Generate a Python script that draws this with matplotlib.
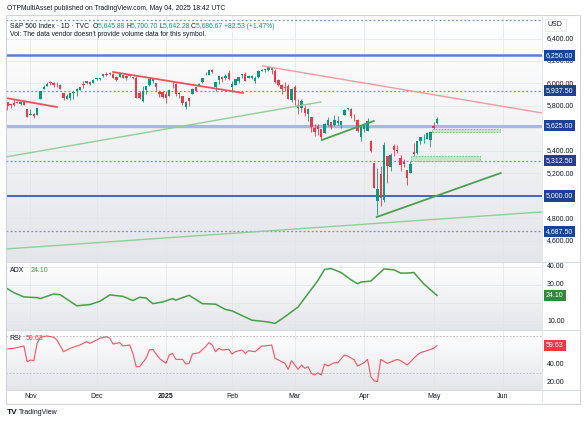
import numpy as np
import matplotlib.pyplot as plt
from matplotlib.colors import LinearSegmentedColormap
from matplotlib.patches import Rectangle
from matplotlib.transforms import blended_transform_factory

plt.rcParams['font.family'] = ['Liberation Sans', 'DejaVu Sans']

# --- Datos: S&P 500 diario, indice de vela 0 = 1 nov 2024 ---
bars = list(range(-7, 124))
opens = [5834, 5817, 5826, 5833, 5819, 5834, 5775,
         5723, 5725, 5722, 5864, 5947, 5976, 6009, 6003, 5986, 5989, 5912, 5863, 5874, 5917, 5930, 5944, 5992, 6001, 6015, 6003,
         6040, 6041, 6066, 6087, 6081, 6084, 6058, 6058, 6074, 6069, 6063, 6053, 6048, 5912, 5843, 5941, 5985, 6024, 6006, 5920, 5920,
         5903, 5891, 5982, 5993, 5910, 5890, 5790, 5868, 5905, 5967, 5976, 6015, 6082, 6076, 6118, 5969, 6027, 6057, 6050, 6096,
         5969, 5990, 6021, 6072, 6083, 6047, 6049, 6026, 6060, 6115, 6121, 6118, 6134, 6115, 6027, 5983, 5971, 5981, 5857,
         5968, 5812, 5781, 5785, 5726, 5705, 5603, 5624, 5594, 5563, 5635, 5655, 5633, 5647, 5630, 5719, 5776, 5772, 5696, 5679, 5527,
         5598, 5581, 5492, 5292, 4953, 5193, 4967, 5353, 5256, 5441, 5411, 5336, 5305, 5233, 5208, 5395, 5381, 5489, 5529, 5508, 5499,
         5626, 5646]
highs = [5834, 5817, 5862, 5842, 5847, 5850, 5776,
         5772, 5741, 5783, 5936, 5983, 6013, 6018, 6010, 6009, 5993, 5915, 5909, 5919, 5921, 5964, 5973, 6020, 6025, 6021, 6044,
         6053, 6052, 6087, 6100, 6099, 6089, 6065, 6092, 6079, 6079, 6085, 6058, 6071, 5935, 5982, 5978, 6040, 6049, 6006, 5941, 5929,
         5935, 5949, 6021, 6000, 5928, 5890, 5847, 5872, 5961, 5968, 6004, 6051, 6100, 6119, 6128, 6017, 6070, 6063, 6086, 6120,
         6022, 6042, 6062, 6084, 6101, 6073, 6076, 6064, 6116, 6127, 6129, 6147, 6134, 6125, 6044, 5992, 6009, 5994, 5959,
         5987, 5865, 5860, 5812, 5783, 5705, 5636, 5642, 5598, 5645, 5704, 5660, 5716, 5711, 5670, 5776, 5786, 5784, 5732, 5685, 5627,
         5651, 5696, 5500, 5292, 5247, 5268, 5481, 5353, 5381, 5459, 5450, 5367, 5328, 5233, 5310, 5470, 5485, 5526, 5554, 5565, 5581,
         5658, 5701]
lows = [5762, 5784, 5799, 5823, 5811, 5811, 5703,
        5723, 5697, 5722, 5864, 5947, 5976, 5991, 5970, 5969, 5947, 5854, 5862, 5855, 5860, 5885, 5944, 5963, 5993, 5990, 6003,
        6035, 6033, 6060, 6071, 6079, 6048, 6026, 6058, 6051, 6029, 6060, 6036, 5867, 5866, 5833, 5903, 5982, 6007, 5932, 5879, 5869,
        5830, 5888, 5961, 5891, 5874, 5809, 5773, 5803, 5905, 5937, 5976, 6007, 6076, 6074, 6089, 5932, 5995, 6013, 6028, 6031,
        5923, 5990, 6007, 6049, 6020, 6047, 6043, 6003, 6050, 6107, 6100, 6111, 6084, 6008, 5978, 5909, 5932, 5858, 5837,
        5810, 5733, 5743, 5712, 5666, 5565, 5529, 5546, 5504, 5563, 5626, 5597, 5622, 5632, 5603, 5719, 5764, 5696, 5671, 5572, 5489,
        5565, 5575, 5390, 5069, 4835, 4910, 4950, 5115, 5220, 5358, 5386, 5220, 5255, 5102, 5208, 5358, 5371, 5463, 5468, 5505, 5433,
        5597, 5642]
closes = [5797, 5809, 5808, 5823, 5832, 5813, 5705,
          5728, 5712, 5783, 5929, 5973, 5996, 6001, 5984, 5985, 5949, 5871, 5893, 5917, 5917, 5949, 5969, 5987, 6021, 5999, 6032,
          6047, 6050, 6086, 6075, 6090, 6053, 6034, 6084, 6051, 6051, 6074, 6050, 5872, 5867, 5931, 5975, 6040, 6037, 5971, 5907, 5882,
          5869, 5942, 5975, 5909, 5918, 5827, 5836, 5843, 5950, 5937, 5997, 6049, 6086, 6119, 6101, 6012, 6067, 6039, 6071, 6040,
          5994, 6037, 6061, 6083, 6026, 6066, 6068, 6052, 6115, 6115, 6129, 6144, 6118, 6013, 5983, 5955, 5956, 5861, 5955,
          5850, 5778, 5842, 5739, 5770, 5615, 5572, 5599, 5522, 5639, 5675, 5615, 5675, 5663, 5668, 5768, 5777, 5712, 5693, 5581, 5612,
          5633, 5671, 5397, 5074, 5062, 4982, 5457, 5268, 5363, 5406, 5397, 5276, 5283, 5158, 5288, 5376, 5485, 5525, 5529, 5561, 5569,
          5604, 5687]

adx_idx = [-7, -5, -2, 2, 3, 7, 9, 14, 18, 21, 24, 28, 31, 33, 35, 37, 40, 43, 44, 46, 48, 52, 56, 59, 61,
           67, 72, 74, 77, 81, 84, 87, 89, 91, 94, 97, 99, 100, 103, 107, 110, 112, 114, 116, 119, 121, 123]
adx_val = [27.8, 25.6, 23.3, 22.9, 22.4, 24.9, 24.5, 18.4, 19.1, 20.9, 24.4, 23.6, 21.3, 23.1, 22.7, 19.6, 20.5, 22.4,
           21.5, 22.9, 24.2, 19.6, 19.3, 16.4, 15.6, 10.5, 9.5, 8.7, 12.4, 17.8, 25.1, 32.4, 38.4, 38.9, 36.7, 32.7,
           30.5, 31.5, 32.0, 38.7, 38.2, 36.4, 36.4, 36.7, 30.5, 27.3, 24.1]

rsi_idx = [-7, -5, -2, -1, 0, 1, 2, 3, 5, 7, 8, 10, 12, 15, 17, 18, 20, 21, 23, 24, 25, 27, 28, 30, 31, 32, 33, 35,
           36, 37, 39, 41, 42, 43, 44, 46, 47, 48, 49, 51, 53, 54, 55, 56, 57, 58, 60, 61, 62, 64, 65, 66, 68, 70, 71,
           73, 74, 76, 77, 78, 79, 81, 82, 83, 84, 85, 86, 87, 88, 89, 90, 92, 93, 95, 96, 98, 99, 101, 102, 103, 104,
           105, 106, 108, 111, 112, 113, 114, 117, 118, 120, 122, 123]
rsi_val = [56.1, 56.8, 59.3, 42.5, 44.3, 43.6, 62.1, 68.6, 70.0, 68.6, 65.7, 53.2, 56.8, 60.4, 63.9, 62.1, 65.7, 67.5,
           69.3, 67.5, 61.4, 62.9, 59.3, 60.4, 51.4, 37.1, 37.1, 46.1, 55.0, 55.7, 46.1, 40.7, 49.6, 51.4, 45.0, 45.0,
           40.0, 40.7, 50.7, 52.1, 58.6, 62.9, 60.4, 53.2, 56.8, 55.0, 55.7, 50.7, 53.2, 55.0, 51.4, 54.3, 53.2, 59.3,
           59.3, 60.4, 46.1, 42.5, 40.7, 34.3, 43.6, 34.3, 38.9, 35.4, 37.1, 30.0, 28.2, 30.7, 28.2, 40.0, 37.9, 41.4,
           41.4, 49.6, 48.6, 44.3, 37.9, 41.4, 45.0, 26.4, 22.1, 21.1, 45.0, 40.7, 45.0, 43.6, 41.4, 38.9, 49.6, 52.1,
           54.3, 56.8, 59.63]

month_idx = [0, 20, 41, 61, 80, 101, 122, 143]
month_lbl = ["Nov", "Dec", "2025", "Feb", "Mar", "Apr", "May", "Jun"]

levels_solid = [6250, 5625, 5000]
levels_dotted = [6562.5, 5937.5, 5312.5, 4687.5]
level_labels = [6250, 5937.5, 5625, 5312.5, 5000, 4687.5]
price_grid = [6400, 6200, 6000, 5800, 5600, 5400, 5200, 5000, 4800, 4600]
price_ticks = [6400, 6200, 6000, 5800, 5400, 5200, 4800, 4600]   # las que no tapan las etiquetas

red_lines = [((-7.4, 5871), (8.0, 5791)), ((25.0, 6102), (64.3, 5916))]
pink_line = ((70.3, 6156), (154.8, 5738))
green_light = [((-7.4, 5347), (87.9, 5836)), ((-7.4, 4529), (154.8, 4858))]
green_dark = [((88.2, 5498), (103.9, 5667)), ((104.8, 4813), (142.3, 5204))]
zones = [(121.5, 142.1, 5570, 5595), (115.1, 136.0, 5315, 5355)]

header_ohlc = ["5,645.88", "5,700.70", "5,642.28", "5,686.67"]
header_chg = "+82.53 (+1.47%)"
adx_last, rsi_last = 24.10, 59.63

# --- Figura ---
W, H = 586, 424
UP, DOWN = "#089981", "#f23645"
TXT = "#131722"
XL = (-7.41, 154.8)

fig = plt.figure(figsize=(W / 100, H / 100), dpi=100)
fig.patch.set_facecolor("white")


def caja(x0, y0, x1, y1):
    return fig.add_axes([x0 / W, 1 - y1 / H, (x1 - x0) / W, (y1 - y0) / H])


def fondo(ax, abajo="#e5e6ea"):
    cmap = LinearSegmentedColormap.from_list("g", [abajo, "#ffffff"])
    ax.imshow(np.linspace(0, 1, 100).reshape(-1, 1), cmap=cmap, aspect="auto",
              extent=[0, 1, 0, 1], transform=ax.transAxes, origin="lower", zorder=0)


def prepara(ax, ylim, grid, ticks, fmt):
    fondo(ax)
    ax.set_xlim(*XL)
    ax.set_ylim(*ylim)
    ax.set_xticks([])
    ax.set_yticks([])
    for g in grid:
        ax.axhline(g, color="#e2e4ea", lw=0.5, zorder=1)
    for m in month_idx:
        ax.axvline(m, color="#e2e4ea", lw=0.5, zorder=1)
    tr = blended_transform_factory(ax.transAxes, ax.transData)
    for t in ticks:
        ax.text(1.0 + 5 / 536, t, fmt(t), transform=tr, fontsize=5, color=TXT,
                va="center", ha="left", clip_on=False)
    for s in ax.spines.values():
        s.set_visible(False)


def etiqueta(ax, y, texto, color):
    tr = blended_transform_factory(ax.transAxes, ax.transData)
    ax.text(1.0 + 4 / 536, y, texto, transform=tr, fontsize=5, color="white",
            va="center", ha="left", clip_on=False, zorder=10,
            bbox=dict(boxstyle="square,pad=0.3", fc=color, ec="none"))


# Panel de precio
ax = caja(6, 15, 542, 262)
prepara(ax, (4413, 6609), price_grid, price_ticks, lambda t: f"{t:,.2f}")

x = np.array(bars)
o, h, l, c = map(np.array, (opens, highs, lows, closes))
col = np.where(c >= o, UP, DOWN)
ax.vlines(x, l, h, colors=col, lw=0.6, zorder=4)
ax.bar(x, np.maximum(np.abs(c - o), 4), bottom=np.minimum(o, c), width=0.72,
       color=col, lw=0, zorder=5)

for lv, st in zip(levels_solid, [dict(color="#5a7fd0", lw=1.8), dict(color="#a7b8dc", lw=2.2),
                                 dict(color="#2452b8", lw=1.2)]):
    ax.axhline(lv, zorder=3, **st)
for lv in levels_dotted:
    ax.axhline(lv, color="#6f8fda", lw=0.9, ls=(0, (1.5, 1.8)), zorder=3)

for (a, b) in red_lines:
    ax.plot([a[0], b[0]], [a[1], b[1]], color="#f0505c", lw=1.3, zorder=6)
ax.plot([pink_line[0][0], pink_line[1][0]], [pink_line[0][1], pink_line[1][1]],
        color="#f49aa2", lw=1.0, zorder=6)
for (a, b) in green_light:
    ax.plot([a[0], b[0]], [a[1], b[1]], color="#8fcf98", lw=1.0, zorder=6)
for (a, b) in green_dark:
    ax.plot([a[0], b[0]], [a[1], b[1]], color="#4aa052", lw=1.3, zorder=6)
for (x0, x1, y0, y1) in zones:
    ax.add_patch(Rectangle((x0, y0), x1 - x0, y1 - y0, fc="#c6e6c8", ec="#6dbb74",
                           lw=0.6, ls=(0, (2, 1.5)), zorder=6))

for lv in level_labels:
    etiqueta(ax, lv, f"{lv:,.2f}", "#1d4196")

# Panel ADX
ax2 = caja(6, 262, 542, 330)
prepara(ax2, (5.1, 42.5), [10, 20, 30, 40], [10, 30, 40], lambda t: f"{t:.2f}")
ax2.plot(adx_idx, adx_val, color="#43a047", lw=1.1, zorder=5)
etiqueta(ax2, adx_last, f"{adx_last:.2f}", "#2e8b3a")
ax2.text(0.007, 0.88, "ADX", transform=ax2.transAxes, fontsize=5, color=TXT, va="center")
ax2.text(0.045, 0.88, f"{adx_last:.2f}", transform=ax2.transAxes, fontsize=5,
         color="#43a047", va="center")

# Panel RSI
ax3 = caja(6, 330, 542, 390)
prepara(ax3, (12.2, 76.4), [], [20, 40], lambda t: f"{t:.2f}")
for b in (70, 30):
    ax3.axhline(b, color="#b2b5be", lw=0.6, ls=(0, (2, 2)), zorder=2)
ax3.plot(rsi_idx, rsi_val, color="#f7525f", lw=0.8, zorder=5)
etiqueta(ax3, rsi_last, f"{rsi_last:.2f}", "#f23645")
ax3.text(0.007, 0.86, "RSI", transform=ax3.transAxes, fontsize=5, color=TXT, va="center")
ax3.text(0.037, 0.86, f"{rsi_last:.2f}", transform=ax3.transAxes, fontsize=5,
         color="#f23645", va="center")
trx = blended_transform_factory(ax3.transData, fig.transFigure)
for m, lbl in zip(month_idx, month_lbl):
    ax3.text(m, 1 - 397 / H, lbl, transform=trx, fontsize=5, color=TXT, ha="center",
             va="center", clip_on=False, fontweight="bold" if lbl == "2025" else "normal")

# Bordes y separadores
for y in (262, 330, 390):
    fig.add_artist(plt.Line2D([6 / W, 580 / W], [1 - y / H] * 2, color="#d9dbe1", lw=0.8))
fig.add_artist(plt.Line2D([542 / W] * 2, [1 - 15 / H, 1 - 404 / H], color="#e0e3eb", lw=0.6))
fig.add_artist(Rectangle((6 / W, 1 - 404 / H), 574 / W, 389 / H, transform=fig.transFigure,
                         fill=False, ec="#d1d4dc", lw=0.8))
fig.text(548 / W, 1 - 25 / H, "USD", fontsize=5, color=TXT, va="center",
         bbox=dict(boxstyle="square,pad=0.4", fc="white", ec="#e0e3eb", lw=0.5))

# Cabecera
fig.text(7 / W, 1 - 8 / H, "OTPMultiAsset published on TradingView.com, May 04, 2025 18:42 UTC",
         fontsize=4.9, color=TXT, va="center")
fig.canvas.draw()
rend = fig.canvas.get_renderer()
piezas = [("S&P 500 Index · 1D · TVC  ", TXT)]
for letra, val in zip("OHLC", header_ohlc):
    piezas += [(letra, TXT), (val + " ", UP)]
piezas += [(header_chg, UP)]
xpos = 10
for txt, color in piezas:
    t = fig.text(xpos / W, 1 - 26 / H, txt, fontsize=4.9, color=color, va="center")
    xpos += t.get_window_extent(rend).width
fig.text(10 / W, 1 - 35 / H, "Vol: The data vendor doesn't provide volume data for this symbol.",
         fontsize=4.9, color=TXT, va="center")

# Logo
fig.text(7 / W, 1 - 413 / H, "TV", fontsize=6, fontweight="bold", color=TXT, va="center")
fig.text(19 / W, 1 - 413 / H, "TradingView", fontsize=5, color=TXT, va="center")

fig.savefig("out.png", dpi=100, facecolor="white")
